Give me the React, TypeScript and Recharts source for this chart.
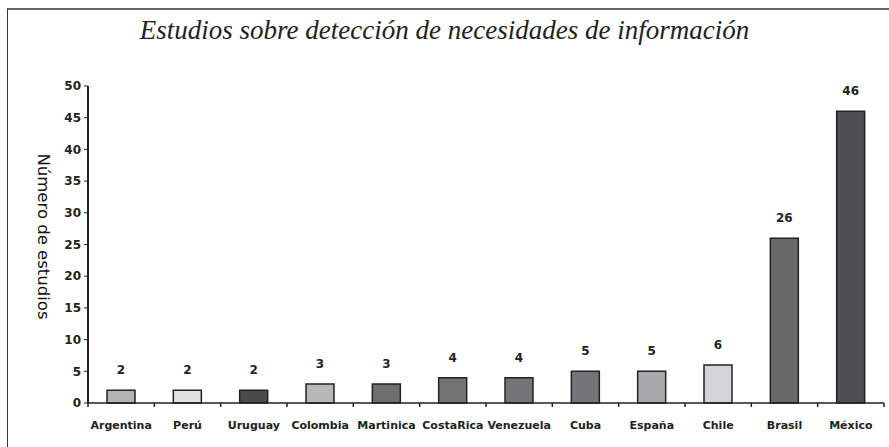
import { BarChart, Bar, XAxis, YAxis, Cell, LabelList } from "recharts"

const countries = ["Argentina", "Perú", "Uruguay", "Colombia", "Martinica", "CostaRica", "Venezuela", "Cuba", "España", "Chile", "Brasil", "México"]
const studies = [2, 2, 2, 3, 3, 4, 4, 5, 5, 6, 26, 46]
const barColors = ["#b4b4b4", "#e2e2e2", "#4b4b4b", "#b8b8b8", "#6f6f6f", "#737373", "#747477", "#747478", "#a9a9ad", "#d4d4d6", "#6a6a6a", "#4f4f51"]
const yTicks = [0, 5, 10, 15, 20, 25, 30, 35, 40, 45, 50]

const data = countries.map((country, i) => ({ country, studies: studies[i] }))

const font = "'DejaVu Sans', Verdana, sans-serif"

function CountryTick({ x, y, payload, index }: any) {
  const half = payload?.offset ?? 33
  const last = index === countries.length - 1
  return (
    <g>
      <line x1={x - half} y1={y - 8} x2={x - half} y2={y - 4} stroke="#222" strokeWidth={1.5} />
      {last && <line x1={x + half} y1={y - 8} x2={x + half} y2={y - 4} stroke="#222" strokeWidth={1.5} />}
      <text x={x} y={y + 18} textAnchor="middle" fontFamily={font} fontSize={11} fontWeight="bold" fill="#222">
        {payload.value}
      </text>
    </g>
  )
}

function AxisTitle({ viewBox }: any) {
  const cx = viewBox.x - 5
  const cy = viewBox.y + viewBox.height / 2 - 8
  return (
    <text x={cx} y={cy} transform={`rotate(90 ${cx} ${cy})`} textAnchor="middle" dominantBaseline="central"
      fontFamily={font} fontSize={16.5} fill="#111">
      Número de estudios
    </text>
  )
}

export default function App() {
  return (
    <div style={{ position: "absolute", left: 0, top: 0, width: 889, height: 447, background: "#fff", overflow: "hidden" }}>
      <div style={{ position: "absolute", left: 7, top: 8, width: 900, height: 460, borderTop: "2px solid #666", borderLeft: "1px solid #333" }} />
      <div style={{ position: "absolute", left: 0, top: 15, width: 889, textAlign: "center", fontFamily: "'Liberation Serif', serif",
        fontStyle: "italic", fontSize: 27, color: "#222" }}>
        Estudios sobre detección de necesidades de información
      </div>
      <div style={{ position: "absolute", left: 0, top: 0 }}>
        <BarChart width={889} height={447} data={data} margin={{ top: 86, right: 5, bottom: 0, left: 48 }} barSize={28}>
          <XAxis dataKey="country" interval={0} tickLine={false} axisLine={{ stroke: "#222", strokeWidth: 1.5 }}
            tick={<CountryTick />} height={44} />
          <YAxis domain={[0, 50]} ticks={yTicks} interval={0} width={40} tickSize={4} tickMargin={3}
            axisLine={{ stroke: "#222", strokeWidth: 2 }} tickLine={{ stroke: "#222" }}
            tick={{ fontFamily: font, fontSize: 12, fontWeight: "bold", fill: "#222" }}
            label={{ content: <AxisTitle /> }} />
          <Bar dataKey="studies" stroke="#222" strokeWidth={1.5} isAnimationActive={false}>
            {data.map((d, i) => (
              <Cell key={d.country} fill={barColors[i]} />
            ))}
            <LabelList dataKey="studies" position="top" offset={16}
              style={{ fontFamily: font, fontSize: 12, fontWeight: "bold", fill: "#222" }} />
          </Bar>
        </BarChart>
      </div>
    </div>
  )
}
